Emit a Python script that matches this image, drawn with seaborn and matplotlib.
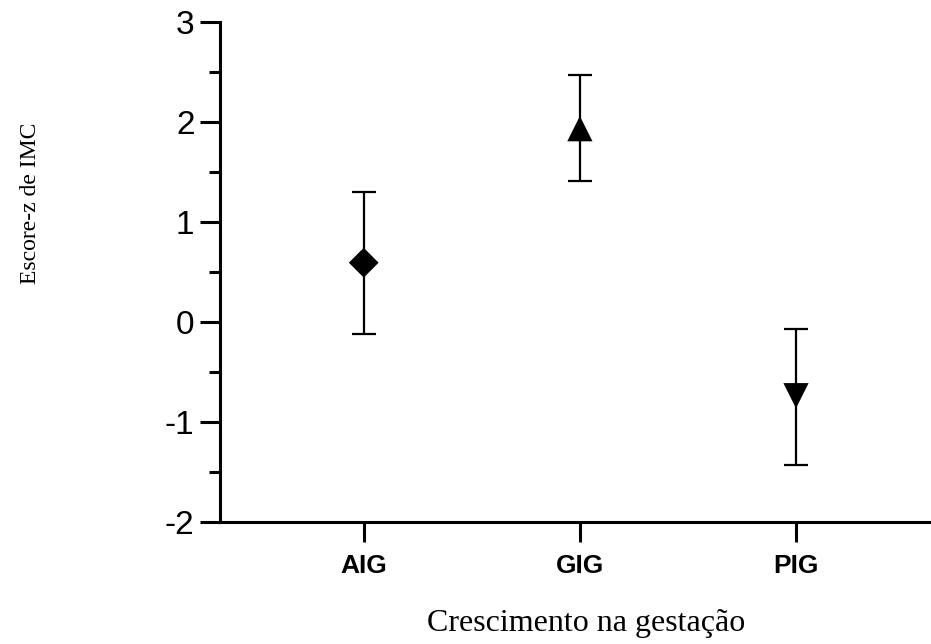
import matplotlib
matplotlib.use("Agg")
import matplotlib.pyplot as plt
import seaborn as sns
import numpy as np
import pandas as pd
from matplotlib.ticker import MultipleLocator

categories = ["AIG", "GIG", "PIG"]
means = [0.59, 1.93, -0.74]
lower = [-0.12, 1.41, -1.43]
upper = [1.30, 2.47, -0.07]
marker_shapes = ["D", "^", "v"]
yticks = [-2, -1, 0, 1, 2, 3]

sns.set_theme(style="ticks")
plt.rcParams["font.family"] = ["Liberation Sans", "DejaVu Sans"]
plt.rcParams["text.color"] = "black"
plt.rcParams["xtick.color"] = "black"
plt.rcParams["ytick.color"] = "black"
plt.rcParams["axes.labelcolor"] = "black"

df = pd.DataFrame({"grupo": categories, "media": means, "inf": lower, "sup": upper})

fig = plt.figure(figsize=(9.31, 6.44), dpi=100)
ax = fig.add_axes([220 / 931, 1 - 521.7 / 644, 710 / 931, 500 / 644])

pos = np.arange(len(categories))
yerr = np.array([df["media"] - df["inf"], df["sup"] - df["media"]])
ax.errorbar(pos, df["media"], yerr=yerr, fmt="none", ecolor="black",
            elinewidth=1.6, capsize=8.6, capthick=1.6, zorder=2)

sns.scatterplot(data=df, x="grupo", y="media", style="grupo",
                markers=dict(zip(categories, marker_shapes)),
                color="black", s=330, edgecolor="black", linewidth=0,
                legend=False, ax=ax, zorder=3)
# diamond slightly smaller than triangles
ax.collections[-1].set_sizes([230, 330, 330])

ax.set_xlim(-0.665, 2.62)
ax.set_ylim(-2, 3)
ax.set_yticks(yticks)
ax.set_yticklabels([str(v) for v in yticks])
ax.yaxis.set_minor_locator(MultipleLocator(0.5))
ax.set_xticks(pos)
ax.set_xticklabels(categories, fontsize=19, fontweight="bold", color="black")

for lab in ax.get_yticklabels():
    lab.set_fontsize(24)
    lab.set_color("black")

ax.tick_params(axis="both", which="major", length=14.4, width=2.2, color="black", pad=4)
ax.tick_params(axis="y", which="minor", length=8, width=2.2, color="black")
ax.tick_params(axis="x", pad=9)

sns.despine(ax=ax)
for s in ["left", "bottom"]:
    ax.spines[s].set_linewidth(2.2)
    ax.spines[s].set_color("black")

ax.set_xlabel("")
ax.set_ylabel("")

fig.text(31 / 931, 1 - 203 / 644, "Escore-z de IMC", rotation=90,
         ha="center", va="center", fontsize=17, color="black",
         family=["Liberation Serif", "DejaVu Serif"])
fig.text(586 / 931, 1 - 624 / 644, "Crescimento na gestação",
         ha="center", va="center", fontsize=23, color="black",
         family=["Liberation Serif", "DejaVu Serif"])

fig.savefig("out.png", dpi=100, facecolor="white")
